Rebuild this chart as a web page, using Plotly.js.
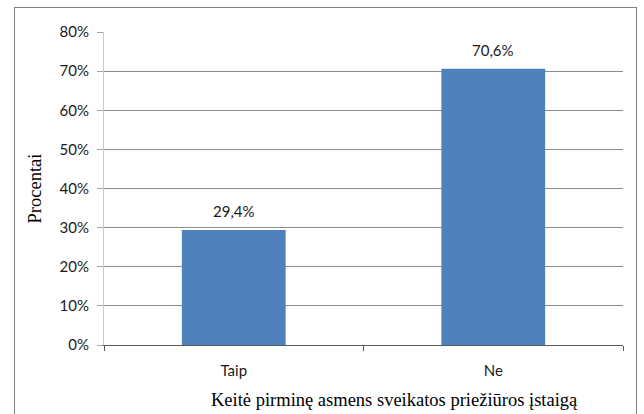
<!DOCTYPE html>
<html>
<head>
<meta charset="utf-8">
<script src="https://cdn.plot.ly/plotly-3.0.1.min.js"></script>
<style>
  html, body { margin: 0; padding: 0; background: #fff; }
  #wrap { position: relative; width: 644px; height: 414px; overflow: hidden; }
  #chart { width: 644px; height: 414px; }
  #frame { position: absolute; left: 14px; top: 7px; width: 621px; height: 420px;
           border: 1px solid #7f7f7f; pointer-events: none; }
</style>
</head>
<body>
<div id="wrap">
  <div id="chart"></div>
  <div id="frame"></div>
</div>
<script>
const categories = ["Taip", "Ne"];
const values = [29.4, 70.6];
const yTitle = "Procentai";
const xTitle = "Keitė pirminę asmens sveikatos priežiūros įstaigą";

const sansFont = "Lato, 'Open Sans', sans-serif";
const serifFont = "'Liberation Serif', 'Times New Roman', serif";

const trace = {
  type: "bar",
  x: categories,
  y: values,
  marker: { color: "#4F81BD" },
  hoverinfo: "none"
};

const labelAnnotations = categories.map((c, i) => ({
  x: c, y: values[i], xref: "x", yref: "y",
  text: values[i].toFixed(1).replace(".", ",") + "%",
  showarrow: false, yanchor: "bottom", yshift: 8,
  font: { family: sansFont, size: 15, color: "#1a1a1a" }
}));

const layout = {
  width: 644, height: 414,
  margin: { l: 104, r: 21, t: 32, b: 69 },
  paper_bgcolor: "#fff", plot_bgcolor: "#fff",
  showlegend: false,
  bargap: 0.6,
  separators: ",.",
  xaxis: {
    type: "category",
    showline: true, linecolor: "#595959", linewidth: 1,
    ticks: "outside", tickson: "boundaries", ticklen: 5, tickcolor: "#595959",
    ticklabelstandoff: 12,
    tickfont: { family: sansFont, size: 15, color: "#1a1a1a" },
    showgrid: false, zeroline: false, fixedrange: true
  },
  yaxis: {
    range: [0, 80], dtick: 10, ticksuffix: "%",
    showline: true, linecolor: "#c8c8c8", linewidth: 1,
    ticks: "outside", ticklen: 6, tickcolor: "#a6a6a6",
    ticklabelstandoff: 5,
    showgrid: true, gridcolor: "#8c8c8c", gridwidth: 1,
    zeroline: false,
    tickfont: { family: sansFont, size: 15, color: "#1a1a1a" },
    title: { text: yTitle, standoff: 13,
      font: { family: serifFont, size: 18.5, color: "#000" } },
    fixedrange: true
  },
  annotations: labelAnnotations.concat([{
    xref: "paper", yref: "paper", x: 0.56, y: 0, yshift: -55,
    xanchor: "center", yanchor: "middle", showarrow: false,
    text: xTitle,
    font: { family: serifFont, size: 18.5, color: "#000" }
  }])
};

Plotly.newPlot("chart", [trace], layout, { displayModeBar: false, staticPlot: true });
</script>
</body>
</html>
